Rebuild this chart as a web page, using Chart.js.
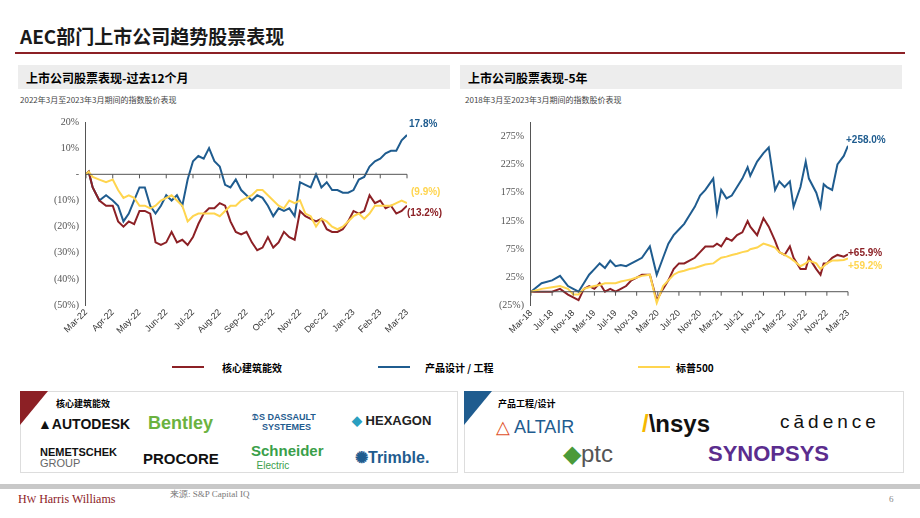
<!DOCTYPE html>
<html><head><meta charset="utf-8">
<script src="https://cdn.jsdelivr.net/npm/chart.js@4.4.1/dist/chart.umd.min.js"></script>
<style>
body{margin:0;width:920px;height:518px;position:relative;background:#fff;font-family:"Noto Sans CJK SC","Noto Sans",sans-serif;overflow:hidden}
.abs{position:absolute}
.logo{position:absolute;font-family:"Liberation Sans",Arial,sans-serif;font-weight:bold;white-space:nowrap}
</style></head><body>
<div class="abs" style="left:20px;top:22px;font-size:19px;font-weight:bold;color:#1a1a1a">AEC部门上市公司趋势股票表现</div>
<div class="abs" style="left:15px;top:52px;width:890px;height:2px;background:#8c2025"></div>
<div class="abs" style="left:18px;top:65px;width:432px;height:24px;background:#ededed"></div>
<div class="abs" style="left:460px;top:65px;width:442px;height:24px;background:#ededed"></div>
<div class="abs" style="left:26px;top:69px;font-size:12px;font-weight:bold">上市公司股票表现-过去12个月</div>
<div class="abs" style="left:468px;top:69px;font-size:12px;font-weight:bold">上市公司股票表现-5年</div>
<div class="abs" style="left:20px;top:94px;font-size:8px;color:#444">2022年3月至2023年3月期间的指数股价表现</div>
<div class="abs" style="left:465px;top:94px;font-size:8px;color:#444">2018年3月至2023年3月期间的指数股价表现</div>
<div class="abs" style="left:15px;top:110px;width:440px;height:228px"><canvas id="c1"></canvas></div>
<div class="abs" style="left:460px;top:110px;width:445px;height:228px"><canvas id="c2"></canvas></div>
<div class="abs" style="left:172px;top:366px;width:32px;height:2px;background:#8c2025"></div>
<div class="abs" style="left:222px;top:360px;font-size:10px;font-weight:bold">核心建筑能效</div>
<div class="abs" style="left:378px;top:366px;width:32px;height:2px;background:#1f5c8f"></div>
<div class="abs" style="left:425px;top:360px;font-size:10px;font-weight:bold">产品设计 / 工程</div>
<div class="abs" style="left:638px;top:366px;width:32px;height:2px;background:#ffd54f"></div>
<div class="abs" style="left:676px;top:360px;font-size:10px;font-weight:bold">标普500</div>
<div class="abs" style="left:20px;top:391px;width:436px;height:80px;border:1px solid #ddd"></div>
<div class="abs" style="left:464px;top:391px;width:438px;height:80px;border:1px solid #ddd"></div>
<div class="abs" style="left:20px;top:391px;width:0;height:0;border-top:34px solid #8c2025;border-right:28px solid transparent"></div>
<div class="abs" style="left:464px;top:391px;width:0;height:0;border-top:34px solid #1f5c8f;border-right:28px solid transparent"></div>
<div class="abs" style="left:56px;top:397px;font-size:9px;font-weight:bold">核心建筑能效</div>
<div class="abs" style="left:498px;top:397px;font-size:9px;font-weight:bold">产品工程/设计</div>
<div class="logo" style="left:38px;top:416px;font-size:14px;color:#111">▲AUTODESK</div>
<div class="logo" style="left:148px;top:413px;font-size:18px;color:#6bb23f">Bentley</div>
<div class="logo" style="left:252px;top:412px;font-size:9px;color:#1f5c8f;line-height:10px">𝔇S DASSAULT<br>&nbsp;&nbsp;&nbsp;&nbsp;SYSTEMES</div>
<div class="logo" style="left:352px;top:413px;font-size:13px;color:#222"><span style="color:#2a9fc0">◆</span> HEXAGON</div>
<div class="logo" style="left:40px;top:447px;font-size:11px;color:#111;line-height:11px">NEMETSCHEK<br><span style="font-weight:normal;color:#666">GROUP</span></div>
<div class="logo" style="left:143px;top:450px;font-size:15px;color:#111">PROCORE</div>
<div class="logo" style="left:251px;top:444px;font-size:15px;color:#3aa04a;line-height:13px">Schneider<br><span style="font-size:10px;font-weight:normal">&nbsp;&nbsp;Electric</span></div>
<div class="logo" style="left:355px;top:448px;font-size:16px;color:#1f5c8f">✺Trimble.</div>
<div class="logo" style="left:496px;top:416px;font-size:18px;color:#1f5c8f;font-weight:normal"><span style="color:#e0502a">△</span> ALTAIR</div>
<div class="logo" style="left:642px;top:410px;font-size:24px;color:#111"><span style="color:#f5b800">/</span>\nsys</div>
<div class="logo" style="left:780px;top:411px;font-size:19px;color:#111;font-weight:normal;letter-spacing:4px">cādence</div>
<div class="logo" style="left:563px;top:440px;font-size:24px;color:#555;font-weight:normal"><span style="color:#4a9a3a">◆</span>ptc</div>
<div class="logo" style="left:708px;top:441px;font-size:22px;color:#5b2d8e">SYNOPSYS</div>
<div class="abs" style="left:0;top:484px;width:920px;height:5px;background:#c8c8c8"></div>
<div class="abs" style="left:18px;top:492px;font-family:'Liberation Serif',serif;font-size:12px;color:#8c2025">H<span style="font-size:10px">W</span> Harris Williams</div>
<div class="abs" style="left:170px;top:488px;font-family:'Liberation Serif',serif;font-size:9px;color:#777">来源: S&amp;P Capital IQ</div>
<div class="abs" style="left:889px;top:494px;font-family:'Liberation Serif',serif;font-size:9px;color:#888">6</div>
<script>
// ---- Chart 1 data (x = months since Mar-22) ----
const months1 = ["Mar-22","Apr-22","May-22","Jun-22","Jul-22","Aug-22","Sep-22","Oct-22","Nov-22","Dec-22","Jan-23","Feb-23","Mar-23"];
const x1 = [0,0.1,0.25,0.5,0.75,1,1.2,1.4,1.6,1.8,2,2.2,2.4,2.6,2.8,3,3.2,3.4,3.6,3.8,4,4.2,4.4,4.6,4.8,5,5.2,5.4,5.6,5.8,6,6.2,6.4,6.6,6.8,7,7.2,7.4,7.6,7.8,8,8.2,8.4,8.6,8.8,9,9.2,9.4,9.6,9.8,10,10.2,10.4,10.6,10.8,11,11.2,11.4,11.6,11.8,12];
const prod1 = [0,1,-5,-10,-8,-10,-12,-18,-15,-10,-5,-5,-12,-15,-12,-8,-10,-8,-12,-2,5,7,6,10,5,3,-4,-5,-2,-6,-8,-10,-8,-9,-12,-16,-13,-14,-13,-16,-3,-4,-5,0,-5,-3,-6,-6,-7,-7,-6,-2,-1,3,5,6,8,9,9,13,15];
const core1 = [0,1,-5,-10,-12,-12,-18,-20,-18,-19,-14,-14,-15,-26,-27,-26,-22,-26,-25,-27,-24,-19,-15,-13,-13,-11,-12,-18,-22,-23,-22,-26,-29,-28,-24,-28,-26,-22,-24,-25,-14,-16,-17,-18,-17,-21,-22,-22,-21,-18,-14,-15,-14,-8,-11,-10,-13,-12,-15,-14,-12];
const sp1 = [0,1,-1,-2,-3,-2,-6,-9,-8,-9,-12,-12,-13,-12,-10,-9,-8,-10,-12,-18,-16,-15,-15,-15,-15,-16,-14,-12,-12,-10,-9,-8,-6,-6,-8,-10,-12,-13,-10,-11,-10,-15,-16,-20,-17,-18,-20,-21,-20,-18,-16,-15,-17,-15,-12,-12,-12,-12,-11,-10,-11];
const ticks1 = [20,10,0,-10,-20,-30,-40,-50];
const end1 = ["17.8%","(13.2%)","(9.9%)"];
// ---- Chart 2 data (x = months since Mar-18) ----
const months2 = ["Mar-18","Jul-18","Nov-18","Mar-19","Jul-19","Nov-19","Mar-20","Jul-20","Nov-20","Mar-21","Jul-21","Nov-21","Mar-22","Jul-22","Nov-22","Mar-23"];
const x2 = [0,2,4,5.5,7,8,9,10,11,12,13,14,15,16,17,18,19,20,21,22.5,23.8,25,26,27,28,29,30,31,32,33,34.5,35.2,36,37,38,39,40,41,41.5,42.8,44,45,46.2,47,48,49,49.7,51,52,52.6,54,54.8,55.4,56,57,58,59.2,60];
const prod2 = [0,15,20,28,10,5,0,15,30,40,50,42,55,45,47,45,50,55,60,80,30,60,85,100,110,120,135,150,170,180,200,140,180,165,170,185,200,220,205,230,245,255,180,195,185,195,150,185,230,200,175,150,190,185,180,225,240,258];
const core2 = [0,0,0,5,-5,-10,-15,5,10,5,15,0,5,0,5,10,20,25,30,30,-15,5,20,40,50,50,55,60,70,80,80,85,80,95,90,100,105,125,115,100,130,115,90,70,65,80,60,40,40,60,40,30,50,50,60,65,62,66];
const sp2 = [0,5,8,10,5,-5,-5,5,8,10,12,15,15,15,18,20,22,25,28,30,-20,10,20,30,35,37,40,42,45,48,50,55,60,62,65,67,70,72,75,78,85,82,78,70,65,60,55,45,50,55,50,40,45,50,55,55,56,59];
const ticks2 = [275,225,175,125,75,25,-25];
const end2 = ["+258.0%","+65.9%","+59.2%"];

const RED="#8c2025", BLUE="#1f5c8f", YEL="#ffd54f", AX="#555";
function pct(v){ if(v===0) return "-"; return v<0?"("+(-v)+"%)":v+"%"; }
function pts(xs,ys){ return xs.map((x,i)=>({x:x,y:ys[i]})); }
const zeroLine={id:"zl",afterDatasetsDraw(c){const {ctx,scales:{x,y}}=c;const y0=y.getPixelForValue(0);ctx.save();ctx.strokeStyle=AX;ctx.lineWidth=1;ctx.beginPath();ctx.moveTo(x.left,y0);ctx.lineTo(x.right,y0);x.ticks.forEach(t=>{const px=x.getPixelForValue(t.value);ctx.moveTo(px,y0);ctx.lineTo(px,y0+4);});ctx.stroke();
 const lab=c.options.plugins.endLabels;ctx.font="bold 10px 'Liberation Sans',sans-serif";ctx.textAlign="left";
 lab.forEach(l=>{ctx.fillStyle=l.c;ctx.fillText(l.t,x.right+l.dx,y.getPixelForValue(l.v));});ctx.restore();}};
function mk(id,xs,p,c,s,months,step,max,ymin,ymax,ticks,labels,pad){
 new Chart(document.getElementById(id),{type:"line",
  data:{datasets:[{data:pts(xs,s),borderColor:YEL},{data:pts(xs,c),borderColor:RED},{data:pts(xs,p),borderColor:BLUE}].map(d=>Object.assign(d,{borderWidth:2,pointRadius:0,tension:0}))},
  options:{animation:false,responsive:true,maintainAspectRatio:false,layout:{padding:pad},
   plugins:{legend:{display:false},tooltip:{enabled:false},endLabels:labels},
   scales:{x:{type:"linear",min:0,max:max,grid:{display:false,drawTicks:false},border:{display:false},
      afterBuildTicks:a=>{a.ticks=months.map((m,i)=>({value:i*step}));},
      ticks:{autoSkip:false,maxRotation:45,minRotation:45,padding:2,color:"#333",font:{family:"Liberation Sans",size:9},callback:(v)=>months[Math.round(v/step)]}},
    y:{min:ymin,max:ymax,afterBuildTicks:a=>{a.ticks=ticks.map(v=>({value:v}));},
      grid:{display:false,drawTicks:true,tickLength:4,color:AX},border:{display:true,color:AX},
      ticks:{color:"#555",font:{family:"Liberation Serif",size:10},callback:v=>pct(v)}}}},
  plugins:[zeroLine]});
}
Chart.register({id:"endLabels"});
mk("c1",x1,prod1,core1,sp1,months1,1,12,-50,20,ticks1,
 [{t:end1[0],v:18,c:BLUE,dx:2},{t:end1[1],v:-16,c:RED,dx:0},{t:end1[2],v:-8,c:YEL,dx:4}],{top:12,right:48,left:36});
mk("c2",x2,prod2,core2,sp2,months2,4,60,-25,300,ticks2,
 [{t:end2[0],v:263,c:BLUE,dx:-2},{t:end2[1],v:63,c:RED,dx:0},{t:end2[2],v:40,c:YEL,dx:0}],{top:12,right:57,left:36});
</script>
</body></html>
